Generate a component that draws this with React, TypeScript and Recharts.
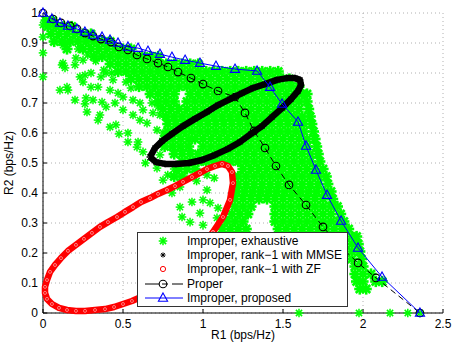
import React from 'react';
import { ScatterChart, Scatter, XAxis, YAxis, CartesianGrid, Legend } from 'recharts';

const FONT = '"Liberation Sans", Arial, Helvetica, sans-serif';

const xTicks = [0, 0.5, 1, 1.5, 2, 2.5];
const yTicks = [0, 0.1, 0.2, 0.3, 0.4, 0.5, 0.6, 0.7, 0.8, 0.9, 1];
const xLabel = 'R1 (bps/Hz)';
const yLabel = 'R2 (bps/Hz)';
const legendLabels = [
  'Improper, exhaustive',
  'Improper, rank\u22121 with MMSE',
  'Improper, rank\u22121 with ZF',
  'Proper',
  'Improper, proposed',
];

type P = [number, number];

// dense part of the exhaustive-search cloud, read row by row: [R2, R1 values]
const exhaustiveRows: [number, number[]][] = [
  [0.975, [0.02, 0.06]],
  [0.955, [0.03, 0.08, 0.13, 0.18]],
  [0.93, [0.05, 0.1, 0.15, 0.2, 0.25, 0.3]],
  [0.905, [0.07, 0.12, 0.17, 0.22, 0.27, 0.32, 0.37, 0.42]],
  [0.88, [0.15, 0.25, 0.3, 0.35, 0.4, 0.45, 0.5, 0.55]],
  [0.855, [0.32, 0.37, 0.42, 0.47, 0.52, 0.57, 0.62, 0.67, 0.72]],
  [0.83, [0.42, 0.47, 0.52, 0.57, 0.62, 0.67, 0.72, 0.77, 0.82, 0.87, 0.92, 0.97]],
  [0.805, [0.47, 0.52, 0.57, 0.62, 0.67, 0.72, 0.77, 0.82, 0.87, 0.92, 0.97, 1.02, 1.07, 1.12, 1.17, 1.22, 1.27, 1.32, 1.37, 1.42, 1.47]],
  [0.78, [0.55, 0.6, 0.65, 0.7, 0.75, 0.8, 0.85, 0.9, 0.95, 1.0, 1.05, 1.1, 1.15, 1.2, 1.25, 1.3, 1.35, 1.4, 1.45, 1.5, 1.54]],
  [0.755, [0.6, 0.65, 0.7, 0.75, 0.8, 0.85, 0.9, 0.95, 1.0, 1.05, 1.1, 1.15, 1.2, 1.25, 1.3, 1.35, 1.4, 1.45, 1.5, 1.55, 1.6]],
  [0.73, [0.67, 0.72, 0.77, 0.82, 0.92, 0.97, 1.02, 1.07, 1.12, 1.17, 1.22, 1.27, 1.32, 1.37, 1.42, 1.47, 1.52, 1.57, 1.62, 1.65]],
  [0.705, [0.72, 0.77, 0.82, 0.9, 0.95, 1.0, 1.05, 1.1, 1.15, 1.2, 1.25, 1.3, 1.35, 1.4, 1.45, 1.5, 1.55, 1.6, 1.65]],
  [0.68, [0.75, 0.8, 0.85, 0.9, 0.95, 1.0, 1.05, 1.1, 1.15, 1.2, 1.25, 1.3, 1.35, 1.4, 1.45, 1.5, 1.55, 1.6, 1.66]],
  [0.655, [0.77, 0.82, 0.87, 0.92, 0.97, 1.02, 1.07, 1.12, 1.17, 1.22, 1.27, 1.32, 1.37, 1.42, 1.47, 1.52, 1.57, 1.62, 1.67]],
  [0.63, [0.78, 0.83, 0.88, 0.93, 0.98, 1.03, 1.08, 1.13, 1.18, 1.23, 1.28, 1.33, 1.38, 1.43, 1.48, 1.53, 1.58, 1.63, 1.68]],
  [0.605, [0.78, 0.83, 0.88, 0.93, 0.98, 1.03, 1.08, 1.13, 1.18, 1.23, 1.28, 1.33, 1.38, 1.43, 1.48, 1.53, 1.58, 1.63, 1.69]],
  [0.58, [0.76, 0.81, 0.86, 0.91, 0.95, 1.0, 1.05, 1.1, 1.15, 1.2, 1.25, 1.3, 1.35, 1.4, 1.45, 1.5, 1.55, 1.6, 1.65, 1.7]],
  [0.555, [0.76, 0.81, 0.86, 0.91, 1.0, 1.05, 1.1, 1.15, 1.2, 1.25, 1.3, 1.35, 1.4, 1.45, 1.5, 1.55, 1.6, 1.65, 1.71]],
  [0.53, [0.82, 0.87, 0.92, 0.97, 1.02, 1.07, 1.12, 1.17, 1.22, 1.27, 1.32, 1.37, 1.42, 1.47, 1.52, 1.57, 1.62, 1.67, 1.72]],
  [0.505, [0.87, 0.92, 0.97, 1.02, 1.07, 1.12, 1.17, 1.22, 1.27, 1.32, 1.37, 1.42, 1.47, 1.52, 1.57, 1.62, 1.67, 1.73]],
  [0.48, [0.85, 0.9, 0.95, 1.25, 1.3, 1.35, 1.4, 1.45, 1.5, 1.55, 1.6, 1.65, 1.7, 1.75]],
  [0.455, [0.82, 0.87, 1.22, 1.27, 1.32, 1.37, 1.42, 1.47, 1.52, 1.57, 1.62, 1.67, 1.72, 1.77]],
  [0.43, [1.22, 1.27, 1.32, 1.37, 1.42, 1.47, 1.52, 1.57, 1.62, 1.67, 1.72, 1.78]],
  [0.405, [1.21, 1.26, 1.31, 1.36, 1.41, 1.46, 1.51, 1.56, 1.61, 1.66, 1.71, 1.76, 1.8]],
  [0.38, [1.2, 1.25, 1.3, 1.35, 1.4, 1.45, 1.5, 1.55, 1.6, 1.65, 1.7, 1.75, 1.81]],
  [0.355, [1.2, 1.25, 1.3, 1.45, 1.5, 1.55, 1.6, 1.65, 1.7, 1.75, 1.8, 1.84]],
  [0.33, [1.18, 1.23, 1.28, 1.45, 1.5, 1.55, 1.6, 1.65, 1.7, 1.75, 1.8, 1.86]],
  [0.305, [1.15, 1.2, 1.25, 1.45, 1.5, 1.55, 1.6, 1.65, 1.7, 1.75, 1.8, 1.85, 1.88]],
  [0.28, [1.12, 1.17, 1.22, 1.27, 1.47, 1.52, 1.57, 1.62, 1.67, 1.72, 1.77, 1.82, 1.87, 1.91]],
  [0.255, [1.93, 1.96]],
  [0.23, [1.93, 1.97]],
  [0.205, [1.93, 1.98]],
  [0.18, [1.93, 1.99]],
  [0.155, [1.95, 2.0]],
  [0.13, [1.95, 2.0, 2.05]],
  [0.105, [1.96, 2.0, 2.08, 2.12]],
  [0.08, [1.98, 2.02]],
];

// scattered single points of the exhaustive-search cloud: [R1, R2]
const exhaustiveSparse: P[] = [
  [0, 0.96], [0, 0.92], [0, 0.867], [0, 0.787],
  [1.6, 0], [1.975, 0], [2.169, 0], [2.28, 0], [2.356, 0],
  [0.125, 0.893], [0.156, 0.9], [0.125, 0.833], [0.1375, 0.817], [0.206, 0.85], [0.25, 0.843],
  [0.2, 0.827], [0.231, 0.787], [0.2625, 0.793], [0.25, 0.77], [0.3, 0.753], [0.156, 0.743],
  [0.106, 0.743], [0.2, 0.71], [0.269, 0.717], [0.3125, 0.71], [0.344, 0.753], [0.3625, 0.787],
  [0.394, 0.8], [0.4375, 0.777], [0.419, 0.743], [0.469, 0.733], [0.5, 0.72], [0.519, 0.77],
  [0.55, 0.75], [0.5625, 0.71], [0.45, 0.7], [0.394, 0.687], [0.606, 0.7], [0.625, 0.677],
  [0.6875, 0.667], [0.731, 0.66], [0.769, 0.653], [0.2625, 0.697], [0.275, 0.67], [0.369, 0.703],
  [0.356, 0.66], [0.344, 0.643], [0.419, 0.62], [0.456, 0.627], [0.475, 0.597], [0.531, 0.6],
  [0.531, 0.57], [0.594, 0.57], [0.5875, 0.553], [0.625, 0.537], [0.5, 0.677], [0.5625, 0.66],
  [0.606, 0.643], [0.65, 0.633], [0.7125, 0.61], [0.681, 0.7], [0.719, 0.687], [0.75, 0.6],
  [0.731, 0.527], [0.7125, 0.483], [0.75, 0.443], [0.64, 0.5], [0.119, 0.827], [0.15, 0.753],
  [0.22, 0.88], [0.28, 0.86], [0.33, 0.84], [0.38, 0.81], [0.43, 0.8], [0.3, 0.8],
  [0.806, 0.4], [0.931, 0.37], [0.981, 0.333], [0.919, 0.303], [1.0, 0.377], [1.025, 0.41],
  [0.856, 0.42], [0.856, 0.353], [1.044, 0.367], [1.0875, 0.317], [1.0, 0.293], [0.869, 0.32],
  [1.094, 0.35], [1.025, 0.46], [0.78, 0.46], [0.82, 0.48], [1.07, 0.45], [0.96, 0.44],
];

// rank-1 with MMSE: closed band, [R1, R2]
const mmseCurve: P[] = [
  [0.669, 0.52], [0.7, 0.55], [0.744, 0.573], [0.806, 0.597], [0.875, 0.623], [0.95, 0.647],
  [1.025, 0.67], [1.094, 0.693], [1.169, 0.713], [1.244, 0.733], [1.3125, 0.75], [1.3875, 0.763],
  [1.4625, 0.777], [1.525, 0.783], [1.575, 0.783], [1.606, 0.777], [1.6125, 0.76], [1.594, 0.74],
  [1.55, 0.713], [1.494, 0.683], [1.431, 0.653], [1.369, 0.623], [1.3, 0.597], [1.231, 0.57],
  [1.156, 0.547], [1.075, 0.527], [0.994, 0.51], [0.9125, 0.5], [0.831, 0.497], [0.7625, 0.497],
  [0.706, 0.503], [0.669, 0.52],
];

// rank-1 with ZF: closed band, [R1, R2]
const zfCurve: P[] = [
  [1.0625, 0.27], [1.125, 0.32], [1.169, 0.377], [1.1875, 0.433], [1.181, 0.47], [1.156, 0.49],
  [1.119, 0.497], [1.075, 0.49], [1.025, 0.48], [0.981, 0.467], [0.931, 0.453], [0.875, 0.437],
  [0.825, 0.423], [0.775, 0.41], [0.719, 0.397], [0.669, 0.383], [0.6125, 0.37], [0.5625, 0.353],
  [0.5125, 0.337], [0.4625, 0.32], [0.406, 0.303], [0.356, 0.287], [0.306, 0.267], [0.256, 0.247],
  [0.206, 0.227], [0.156, 0.207], [0.1125, 0.183], [0.075, 0.16], [0.044, 0.137], [0.025, 0.11],
  [0.0125, 0.087], [0.0125, 0.067], [0.025, 0.047], [0.056, 0.03], [0.1, 0.017], [0.15, 0.01],
  [0.206, 0.007], [0.2625, 0.007], [0.325, 0.01], [0.3875, 0.013], [0.444, 0.02], [0.5, 0.03],
  [0.556, 0.04], [0.6125, 0.053], [0.681, 0.073], [0.7625, 0.1], [0.844, 0.133], [0.919, 0.17],
  [0.981, 0.21], [1.0625, 0.27],
];

const properCurve: P[] = [
  [0, 1], [0.0625, 0.98], [0.1125, 0.967], [0.169, 0.957], [0.2125, 0.947], [0.2625, 0.933],
  [0.3125, 0.923], [0.3625, 0.913], [0.425, 0.903], [0.475, 0.887], [0.531, 0.877], [0.5875, 0.86],
  [0.65, 0.847], [0.719, 0.833], [0.781, 0.82], [0.844, 0.803], [0.925, 0.783], [1.0, 0.763],
  [1.094, 0.74], [1.2, 0.72], [1.2625, 0.667], [1.319, 0.607], [1.3875, 0.55], [1.456, 0.49],
  [1.5375, 0.427], [1.644, 0.36], [1.75, 0.287], [1.856, 0.223], [1.969, 0.167], [2.081, 0.117],
  [2.356, 0],
];

const proposedCurve: P[] = [
  [0, 1], [0.056, 0.98], [0.106, 0.967], [0.156, 0.957], [0.212, 0.947], [0.262, 0.937],
  [0.312, 0.927], [0.369, 0.92], [0.419, 0.91], [0.469, 0.9], [0.531, 0.887], [0.594, 0.883],
  [0.656, 0.873], [0.731, 0.863], [0.806, 0.853], [0.888, 0.843], [0.981, 0.833], [1.081, 0.823],
  [1.2, 0.813], [1.338, 0.807], [1.419, 0.753], [1.494, 0.697], [1.594, 0.637], [1.644, 0.557],
  [1.706, 0.477], [1.775, 0.393], [1.863, 0.307], [1.969, 0.217], [2.119, 0.12], [2.356, 0],
];

const toObj = (ps: P[]) => ps.map(([x, y]) => ({ x, y }));
const exhaustiveDenseData = exhaustiveRows.flatMap(([y, xs]) => xs.map((x) => ({ x, y })));
const exhaustiveSparseData = toObj(exhaustiveSparse);
const mmseData = toObj(mmseCurve);
const zfData = toObj(zfCurve);
const properData = toObj(properCurve);
const proposedData = toObj(proposedCurve);

const GREEN = '#00ff00';
const RED = '#ff0000';
const BLUE = '#0000ff';

const Star = ({ cx, cy, r, color, w }: any) => {
  const d = r * 0.72;
  return (
    <g stroke={color} strokeWidth={w}>
      <line x1={cx - r} y1={cy} x2={cx + r} y2={cy} />
      <line x1={cx} y1={cy - r} x2={cx} y2={cy + r} />
      <line x1={cx - d} y1={cy - d} x2={cx + d} y2={cy + d} />
      <line x1={cx - d} y1={cy + d} x2={cx + d} y2={cy - d} />
    </g>
  );
};
const GreenStar = (p: any) => <Star cx={p.cx} cy={p.cy} r={4.3} color={GREEN} w={1.5} />;
const GreenCluster = (p: any) => <Star cx={p.cx} cy={p.cy} r={5.6} color={GREEN} w={2.6} />;
const BlackStar = (p: any) => <Star cx={p.cx} cy={p.cy} r={2.6} color="#000" w={1} />;
const BandStar = (p: any) => <Star cx={p.cx} cy={p.cy} r={3.4} color="#000" w={1} />;
const RedCircle = (p: any) => (
  <circle cx={p.cx} cy={p.cy} r={2.6} fill="none" stroke={RED} strokeWidth={1} />
);
const RedBandMark = (p: any) => (
  <circle cx={p.cx} cy={p.cy} r={1.5} fill="none" stroke="#ff9a9a" strokeWidth={0.8} />
);
const BlackCircle = (p: any) => (
  <circle cx={p.cx} cy={p.cy} r={3.8} fill="none" stroke="#000" strokeWidth={1.1} />
);
const BlueTriangle = (p: any) => (
  <path
    d={`M${p.cx},${p.cy - 5}L${p.cx + 4.6},${p.cy + 3.3}L${p.cx - 4.6},${p.cy + 3.3}Z`}
    fill="none"
    stroke={BLUE}
    strokeWidth={1.1}
  />
);

const legendMarkers = [
  <GreenStar cx={25} cy={7} />,
  <BlackStar cx={25} cy={7} />,
  <RedCircle cx={25} cy={7} />,
  <g>
    <line x1={7} y1={7} x2={45} y2={7} stroke="#000" strokeWidth={1} strokeDasharray="14 3 6 4" />
    <BlackCircle cx={25} cy={7} />
  </g>,
  <g>
    <line x1={7} y1={7} x2={45} y2={7} stroke={BLUE} strokeWidth={1} />
    <BlueTriangle cx={25} cy={7} />
  </g>,
];

const LegendBox = () => (
  <div
    style={{
      width: 209,
      height: 72,
      background: '#fff',
      border: '1px solid #333',
      fontFamily: FONT,
      fontSize: 12,
      color: '#000',
      paddingTop: 1,
      boxSizing: 'content-box',
      lineHeight: '14.2px',
    }}
  >
    {legendLabels.map((label, i) => (
      <div key={label} style={{ display: 'flex', alignItems: 'center', height: 14.2 }}>
        <svg width={49} height={14} style={{ display: 'block', flex: 'none' }}>
          {legendMarkers[i]}
        </svg>
        <span style={{ whiteSpace: 'nowrap' }}>{label}</span>
      </div>
    ))}
  </div>
);

const YTitle = (props: any) => {
  const vb = props.viewBox || { x: 0, y: 13, width: 43, height: 300 };
  const cx = vb.x + 9;
  const cy = vb.y + vb.height / 2;
  return (
    <text
      x={cx}
      y={cy}
      transform={`rotate(-90 ${cx} ${cy})`}
      textAnchor="middle"
      dominantBaseline="central"
      fontSize={12}
      fill="#000"
      fontFamily={FONT}
    >
      {yLabel}
    </text>
  );
};

export default function App() {
  const tickStyle = { fill: '#000', fontSize: 12, fontFamily: FONT };
  return (
    <div style={{ position: 'absolute', left: 0, top: 0, width: 457, height: 346, fontFamily: FONT, background: '#fff' }}>
      <ScatterChart width={457} height={346} margin={{ top: 13, right: 14, bottom: 0, left: 0 }}>
        <CartesianGrid stroke="#b0b0b0" strokeDasharray="1 3" />
        <XAxis
          dataKey="x"
          type="number"
          domain={[0, 2.5]}
          ticks={xTicks}
          interval={0}
          height={33}
          stroke="#000"
          tickSize={-4}
          tickMargin={10}
          tick={tickStyle}
          label={{ value: xLabel, position: 'insideBottom', offset: 7, fill: '#000', fontSize: 12, fontFamily: FONT }}
        />
        <XAxis
          xAxisId="top"
          orientation="top"
          type="number"
          domain={[0, 2.5]}
          ticks={xTicks}
          interval={0}
          height={0}
          stroke="#000"
          tickSize={-4}
          tick={false}
        />
        <YAxis
          dataKey="y"
          type="number"
          domain={[0, 1]}
          ticks={yTicks}
          interval={0}
          width={43}
          stroke="#000"
          tickSize={-4}
          tickMargin={9}
          tick={tickStyle}
          label={{ content: YTitle }}
        />
        <YAxis
          yAxisId="right"
          orientation="right"
          type="number"
          domain={[0, 1]}
          ticks={yTicks}
          interval={0}
          width={0}
          stroke="#000"
          tickSize={-4}
          tick={false}
        />
        <Scatter data={exhaustiveDenseData} fill={GREEN} shape={GreenCluster} isAnimationActive={false} />
        <Scatter data={exhaustiveSparseData} fill={GREEN} shape={GreenStar} isAnimationActive={false} />
        <Scatter
          data={mmseData}
          fill="#000"
          shape={BandStar}
          line={{ stroke: '#000', strokeWidth: 6.5, strokeLinejoin: 'round' }}
          lineType="joint"
          isAnimationActive={false}
        />
        <Scatter
          data={zfData}
          fill={RED}
          shape={RedBandMark}
          line={{ stroke: RED, strokeWidth: 6.5, strokeLinejoin: 'round' }}
          lineType="joint"
          isAnimationActive={false}
        />
        <Scatter
          data={properData}
          fill="#000"
          shape={BlackCircle}
          line={{ stroke: '#000', strokeWidth: 1, strokeDasharray: '6 4' }}
          lineType="joint"
          isAnimationActive={false}
        />
        <Scatter
          data={proposedData}
          fill={BLUE}
          shape={BlueTriangle}
          line={{ stroke: BLUE, strokeWidth: 1 }}
          lineType="joint"
          isAnimationActive={false}
        />
        <Legend
          layout="vertical"
          align="center"
          verticalAlign="middle"
          content={LegendBox}
          wrapperStyle={{ left: 137, top: 232, right: 'auto', bottom: 'auto', width: 'auto', height: 'auto' }}
        />
      </ScatterChart>
    </div>
  );
}
